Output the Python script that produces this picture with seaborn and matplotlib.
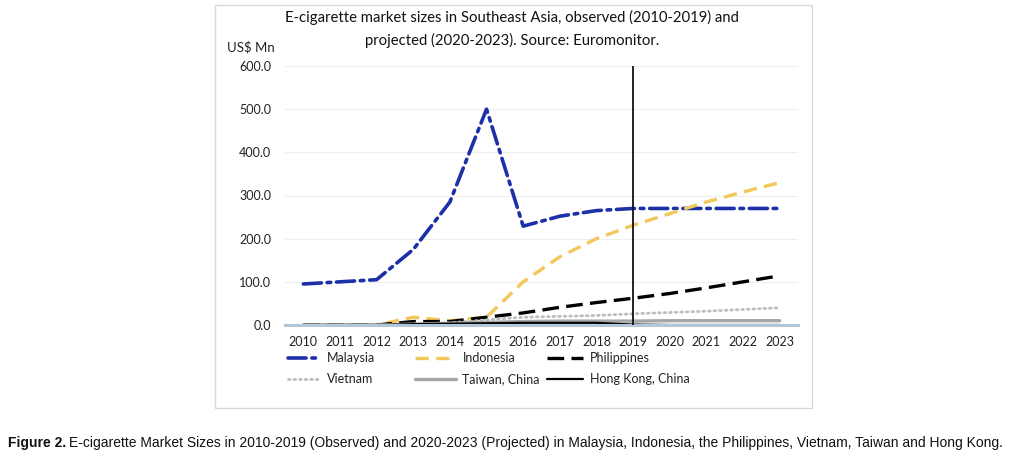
import numpy as np
import pandas as pd
import matplotlib
matplotlib.use("Agg")
import matplotlib.pyplot as plt
import seaborn as sns
from matplotlib.patches import Rectangle

# ---- data (US$ Mn) ----
years = list(range(2010, 2024))
malaysia = [95, 100, 105, 175, 285, 500, 229, 252, 265, 270, 270, 270, 270, 270]
indonesia = [0, 0, 0, 18, 10, 18, 100, 158, 200, 231, 258, 285, 308, 330]
philippines = [0, 0, 0, 8, 8, 18, 28, 41, 52, 62, 73, 86, 100, 114]
vietnam = [0, 0, 0, 2, 5, 12, 18, 20, 22, 26, 29, 32, 36, 40]
taiwan = [0, 0, 0, 2, 4, 6, 8, 9, 9, 9, 10, 10, 10, 10]
hongkong = [0, 0, 0, 2, 3, 4, 5, 5, 5, 1, 0, 0, 0, 0]
split_year = 2019

sns.set_style("white")
plt.rcParams['font.family'] = ['Lato', 'DejaVu Sans']

fig = plt.figure(figsize=(10.19, 4.70), dpi=100)
ax = fig.add_axes([285 / 1019, 1 - 325 / 470, 513 / 1019, 259 / 470])

series = [
    ("Malaysia", malaysia, "#1C30A8", (0, (5, 1.6, 1, 1.6)), 2.6),
    ("Indonesia", indonesia, "#F2C75C", (0, (4, 2.2)), 2.4),
    ("Philippines", philippines, "#000000", (0, (5, 2.2)), 2.4),
    ("Vietnam", vietnam, "#BDBDBD", (0, (0.6, 1.4)), 2.0),
    ("Taiwan, China", taiwan, "#A6A6A6", "-", 2.4),
    ("Hong Kong, China", hongkong, "#000000", "-", 1.6),
]

handles = {}
for name, vals, color, ls, lw in series:
    df = pd.DataFrame({"year": years, "value": vals})
    sns.lineplot(data=df, x="year", y="value", ax=ax, color=color,
                 linestyle=ls, lw=lw, clip_on=False, label=name,
                 dash_capstyle="round" if name in ("Malaysia", "Vietnam") else "butt")
    handles[name] = ax.lines[-1]

ax.get_legend().remove()

# divider between observed and projected
ax.axvline(split_year, ymin=0, ymax=1, color="#111111", lw=1.3, zorder=5)

ax.set_xlim(2009.5, 2023.5)
ax.set_ylim(0, 600)
ax.set_xticks(years)
ax.set_xticklabels([str(y) for y in years])
ax.set_yticks(range(0, 601, 100))
ax.set_yticklabels([f"{v:.1f}" for v in range(0, 601, 100)])
ax.tick_params(axis="both", length=0, labelsize=9, colors="#222222")
ax.tick_params(axis="x", pad=8)
ax.tick_params(axis="y", pad=10)
ax.grid(axis="y", color="#EEEEEE", lw=0.8)
ax.set_axisbelow(True)
ax.set_xlabel("")
ax.set_ylabel("")
for s in ["top", "right", "left"]:
    ax.spines[s].set_visible(False)
ax.spines["bottom"].set_color("#B4C7D6")
ax.spines["bottom"].set_linewidth(2.2)

# chart frame
fig.patches.append(Rectangle((215 / 1019, 1 - 408 / 470), 597 / 1019, 403 / 470,
                             transform=fig.transFigure, fill=False,
                             edgecolor="#D9D9D9", lw=1.0))

fig.text(512 / 1019, 1 - 17 / 470,
         "E-cigarette market sizes in Southeast Asia, observed (2010-2019) and",
         ha="center", va="center", fontsize=10.7, color="#111111")
fig.text(512 / 1019, 1 - 40 / 470,
         "projected (2020-2023). Source: Euromonitor.",
         ha="center", va="center", fontsize=10.7, color="#111111")
fig.text(251 / 1019, 1 - 47 / 470, "US$ Mn", ha="center", va="center",
         fontsize=9.5, color="#222222")

# legend: three columns, two rows
cols = [(288, ["Malaysia", "Vietnam"], 2.6),
        (415, ["Indonesia", "Taiwan, China"], 3.3),
        (547, ["Philippines", "Hong Kong, China"], 2.9)]
for x0, names, hl in cols:
    leg = fig.legend([handles[n] for n in names], names, loc="upper left",
                     bbox_to_anchor=(x0 / 1019, 1 - 352 / 470), frameon=False,
                     fontsize=9, handlelength=hl, handletextpad=0.5,
                     labelspacing=0.75, borderaxespad=0, borderpad=0)
    for t in leg.get_texts():
        t.set_color("#222222")

# caption
cap_font = ['Liberation Sans', 'DejaVu Sans']
t1 = fig.text(8 / 1019, 1 - 443 / 470, "Figure 2.", ha="left", va="center",
              fontsize=10.0, fontweight="bold", family=cap_font, color="#111111")
fig.canvas.draw()
bb = t1.get_window_extent(renderer=fig.canvas.get_renderer())
x_next = bb.x1 / fig.bbox.width
fig.text(x_next + 3 / 1019, 1 - 443 / 470,
         "E-cigarette Market Sizes in 2010-2019 (Observed) and 2020-2023 (Projected) in "
         "Malaysia, Indonesia, the Philippines, Vietnam, Taiwan and Hong Kong.",
         ha="left", va="center", fontsize=10.0, family=cap_font, color="#111111")

fig.savefig("out.png", dpi=100, facecolor="white")
